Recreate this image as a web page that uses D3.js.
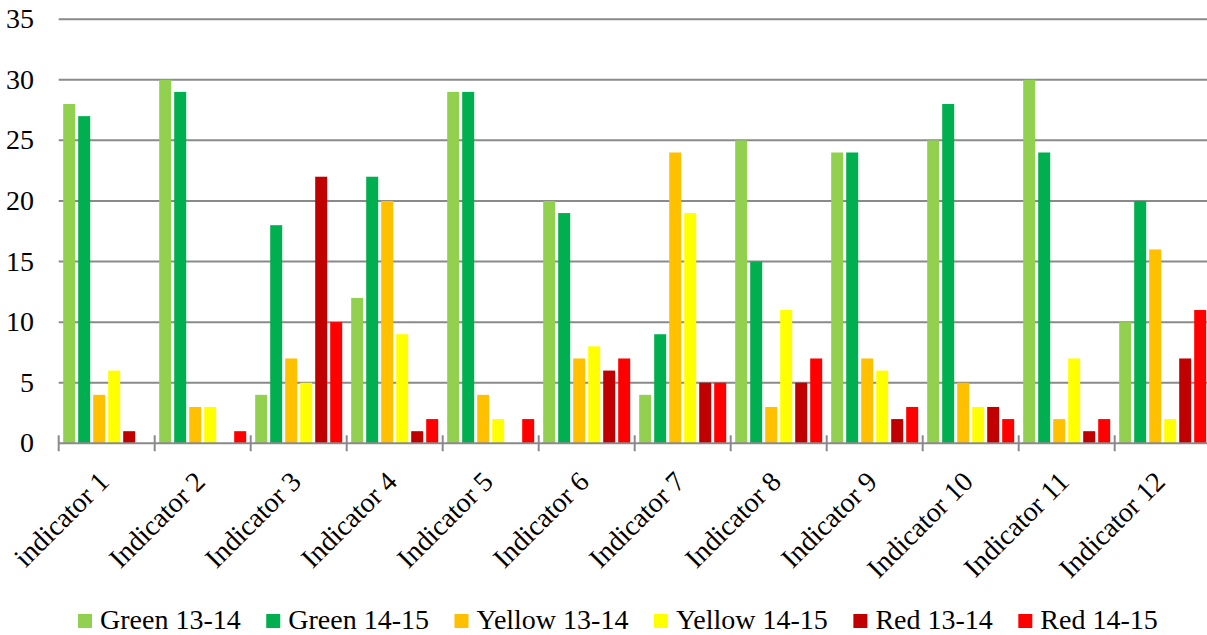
<!DOCTYPE html>
<html>
<head>
<meta charset="utf-8">
<script src="https://cdn.jsdelivr.net/npm/d3@7"></script>
<style>
  html, body { margin: 0; padding: 0; background: #fff; }
  svg text { font-family: "Liberation Serif", "Times New Roman", serif; fill: #000; }
</style>
</head>
<body>
<div id="chart"></div>
<script>
const categories = ["indicator 1", "Indicator 2", "Indicator 3", "Indicator 4", "Indicator 5", "Indicator 6",
  "Indicator 7", "Indicator 8", "Indicator 9", "Indicator 10", "Indicator 11", "Indicator 12"];
const seriesNames = ["Green 13-14", "Green 14-15", "Yellow 13-14", "Yellow 14-15", "Red 13-14", "Red 14-15"];
const seriesColors = ["#92D050", "#00B050", "#FFC000", "#FFFF00", "#C00000", "#FF0000"];

const green1314 = [28, 30, 4, 12, 29, 20, 4, 25, 24, 25, 30, 10];
const green1415 = [27, 29, 18, 22, 29, 19, 9, 15, 24, 28, 24, 20];
const yellow1314 = [4, 3, 7, 20, 4, 7, 24, 3, 7, 5, 2, 16];
const yellow1415 = [6, 3, 5, 9, 2, 8, 19, 11, 6, 3, 7, 2];
const red1314 = [1, 0, 22, 1, 0, 6, 5, 5, 2, 3, 1, 7];
const red1415 = [0, 1, 10, 2, 2, 7, 5, 7, 3, 2, 2, 11];
const yTicks = [0, 5, 10, 15, 20, 25, 30, 35];

const allSeries = [green1314, green1415, yellow1314, yellow1415, red1314, red1415];

const W = 1207, H = 635;
const MARGIN = { TOP: 19.2, LEFT: 58.7, BOTTOM: 443.3 };
const BAND = 96;
const FONT = 28;

const svg = d3.select("#chart").append("svg")
  .attr("width", W)
  .attr("height", H);

const x0 = d3.scaleBand()
  .domain(categories)
  .range([MARGIN.LEFT, MARGIN.LEFT + BAND * categories.length]);

const x1 = d3.scaleBand()
  .domain(seriesNames)
  .range([3, BAND - 3])
  .paddingInner(0.2)
  .paddingOuter(0.1);

const y = d3.scaleLinear()
  .domain([0, 35])
  .range([MARGIN.BOTTOM, MARGIN.TOP]);

// gridlines
svg.append("g")
  .selectAll("line")
  .data(yTicks.filter(d => d > 0))
  .join("line")
  .attr("x1", MARGIN.LEFT)
  .attr("x2", W)
  .attr("y1", d => y(d))
  .attr("y2", d => y(d))
  .attr("stroke", "#8a8a8a")
  .attr("stroke-width", 2);

// y labels
svg.append("g")
  .selectAll("text")
  .data(yTicks)
  .join("text")
  .attr("x", 34)
  .attr("y", d => y(d) + 9)
  .attr("text-anchor", "end")
  .style("font-size", FONT + "px")
  .text(d => d);

// bars
const rows = categories.map((c, i) => ({
  cat: c,
  values: seriesNames.map((s, j) => ({ key: s, value: allSeries[j][i], color: seriesColors[j] }))
}));

svg.append("g")
  .selectAll("g")
  .data(rows)
  .join("g")
  .attr("transform", d => `translate(${x0(d.cat)},0)`)
  .selectAll("rect")
  .data(d => d.values)
  .join("rect")
  .attr("x", d => x1(d.key))
  .attr("width", x1.bandwidth())
  .attr("y", d => y(d.value))
  .attr("height", d => y(0) - y(d.value))
  .attr("fill", d => d.color);

// x axis line + cross ticks
svg.append("line")
  .attr("x1", MARGIN.LEFT)
  .attr("x2", W)
  .attr("y1", y(0))
  .attr("y2", y(0))
  .attr("stroke", "#8a8a8a")
  .attr("stroke-width", 2);

svg.append("g")
  .selectAll("line")
  .data(d3.range(categories.length + 1))
  .join("line")
  .attr("x1", i => MARGIN.LEFT + i * BAND)
  .attr("x2", i => MARGIN.LEFT + i * BAND)
  .attr("y1", y(0) - 8)
  .attr("y2", y(0) + 8)
  .attr("stroke", "#8a8a8a")
  .attr("stroke-width", 2);

// rotated category labels
svg.append("g")
  .selectAll("text")
  .data(categories)
  .join("text")
  .attr("transform", d => `translate(${x0(d) + BAND / 2 + 4},${y(0) + 40}) rotate(-45)`)
  .attr("text-anchor", "end")
  .style("font-size", FONT + "px")
  .text(d => d);

// legend
const legend = svg.append("g");
let lx = 78;
seriesNames.forEach((name, i) => {
  legend.append("rect")
    .attr("x", lx)
    .attr("y", 614)
    .attr("width", 14)
    .attr("height", 14)
    .attr("fill", seriesColors[i]);
  const t = legend.append("text")
    .attr("x", lx + 22)
    .attr("y", 629)
    .style("font-size", FONT + "px")
    .text(name);
  lx += 22 + t.node().getComputedTextLength() + 25.5;
});
</script>
</body>
</html>
